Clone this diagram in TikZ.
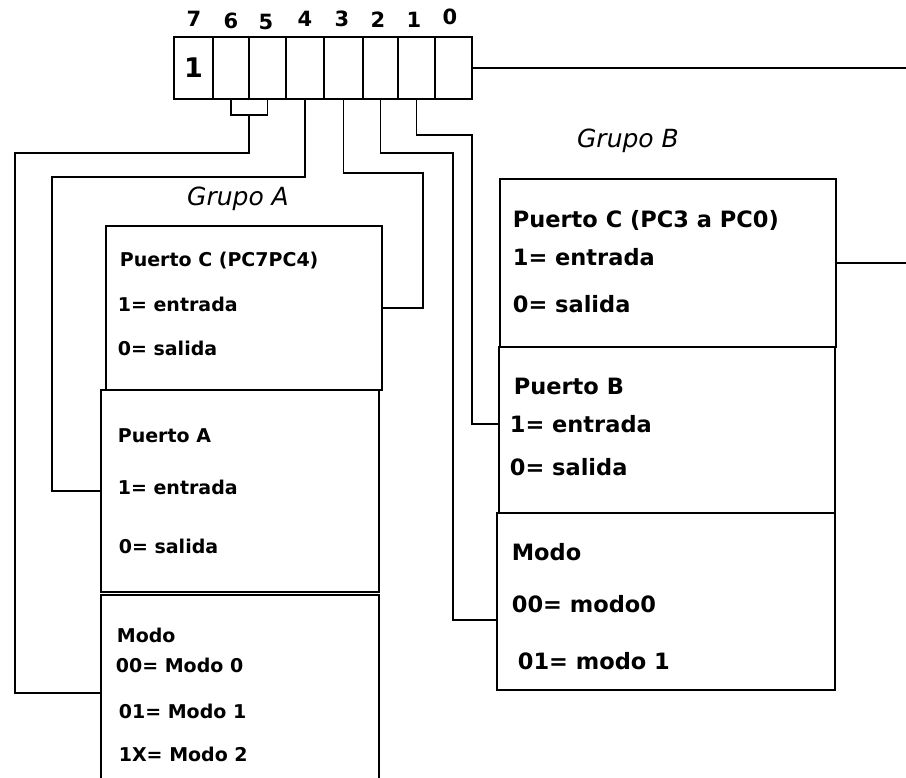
\documentclass[tikz,border=0pt]{standalone}
\usepackage{fontspec}
\setmainfont{DejaVu Sans}
\begin{document}
\begin{tikzpicture}[x=1pt,y=-1pt,line width=1.7pt,
  cell/.style={draw, minimum height=62pt, inner sep=0pt, outer sep=0pt, anchor=north west, font=\bfseries\fontsize{27}{29}\selectfont},
  bitlbl/.style={font=\bfseries\fontsize{21}{23}\selectfont, inner sep=0pt},
  box/.style={draw, inner sep=0pt, outer sep=0pt, anchor=north west},
  openbox/.style={inner sep=0pt, outer sep=0pt, anchor=north west},
  txtA/.style={anchor=west, inner sep=0pt, font=\bfseries\fontsize{19}{21}\selectfont},
  txtB/.style={anchor=west, inner sep=0pt, font=\fontsize{22.5}{24}\selectfont\bfseries},
  grp/.style={inner sep=0pt, font=\fontsize{25}{27}\selectfont\itshape}]
\useasboundingbox (0,0) rectangle (906,778);
% register
\node[cell, minimum width=39pt] (c7) at (174,37) {1};
\node[cell, minimum width=36pt] (c6) at (213,37) {};
\node[cell, minimum width=37pt] (c5) at (249,37) {};
\node[cell, minimum width=38pt] (c4) at (286,37) {};
\node[cell, minimum width=39pt] (c3) at (324,37) {};
\node[cell, minimum width=35pt] (c2) at (363,37) {};
\node[cell, minimum width=37pt] (c1) at (398,37) {};
\node[cell, minimum width=37pt] (c0) at (435,37) {};
% bit numbers
\node[bitlbl] (b7) at (194,19) {7};
\node[bitlbl] (b6) at (231,21) {6};
\node[bitlbl] (b5) at (266,22) {5};
\node[bitlbl] (b4) at (305,19) {4};
\node[bitlbl] (b3) at (342,19) {3};
\node[bitlbl] (b2) at (378,20) {2};
\node[bitlbl] (b1) at (414,20) {1};
\node[bitlbl] (b0) at (450,17) {0};
% group labels
\node[grp] (gA) at (238,199) {Grupo A};
\node[grp] (gB) at (628,141) {Grupo B};
% group A boxes
\node[box, minimum width=276pt, minimum height=164pt] (pcA) at (106,226) {};
\node[box, minimum width=278pt, minimum height=202pt] (paA) at (101,390) {};
\node[openbox, minimum width=278pt, minimum height=183pt] (moA) at (101,595) {};
\draw (moA.south west) -- (moA.north west) -- (moA.north east) -- (moA.south east);
% group B boxes
\node[box, minimum width=336pt, minimum height=168pt] (pcB) at (500,179) {};
\node[box, minimum width=336pt, minimum height=166pt] (pbB) at (499,347) {};
\node[box, minimum width=338pt, minimum height=177pt] (moB) at (497,513) {};
% texts group A
\node[txtA] (tA1) at (119,261) {Puerto C (PC7PC4)};
\node[txtA] (tA2) at (117,304) {1= entrada};
\node[txtA] (tA3) at (117,348) {0= salida};
\node[txtA] (tA4) at (117,436) {Puerto A};
\node[txtA] (tA5) at (117,487) {1= entrada};
\node[txtA] (tA6) at (118,546) {0= salida};
\node[txtA] (tA7) at (116,635) {Modo};
\node[txtA] (tA8) at (115,665) {00= Modo 0};
\node[txtA] (tA9) at (118,711) {01= Modo 1};
\node[txtA] (tA10) at (118,754) {1X= Modo 2};
% texts group B
\node[txtB] (tB1) at (512,220) {Puerto C (PC3 a PC0)};
\node[txtB] (tB2) at (512,257) {1= entrada};
\node[txtB] (tB3) at (512,304) {0= salida};
\node[txtB] (tB4) at (513,386) {Puerto B};
\node[txtB] (tB5) at (509,424) {1= entrada};
\node[txtB] (tB6) at (509,467) {0= salida};
\node[txtB] (tB7) at (511,552) {Modo};
\node[txtB] (tB8) at (511,604) {00= modo0};
\node[txtB] (tB9) at (517,661) {01= modo 1};
% connectors
\coordinate (br) at (249,115);
\coordinate (e0) at (906,68);
\coordinate (e1) at (906,263);
\coordinate (l65) at (15,153);
\coordinate (l4) at (52,177);
\coordinate (r3) at (423,173);
\coordinate (r2) at (453,153);
\coordinate (r1) at (472,135);
\draw (c6.south) |- (br) -| (c5.south);
\draw (br) |- (l65) |- ([yshift=-98pt]moA.north west);
\draw (c4.south) |- (l4) |- (paA.west);
\draw (c3.south) |- (r3) |- (pcA.east);
\draw (c2.south) |- (r2) |- ([yshift=-107pt]moB.north west);
\draw (c1.south) |- (r1) |- ([yshift=-77pt]pbB.north west);
\draw (c0.east) -- (e0);
\draw (pcB.east) -- (e1);
\end{tikzpicture}
\end{document}
